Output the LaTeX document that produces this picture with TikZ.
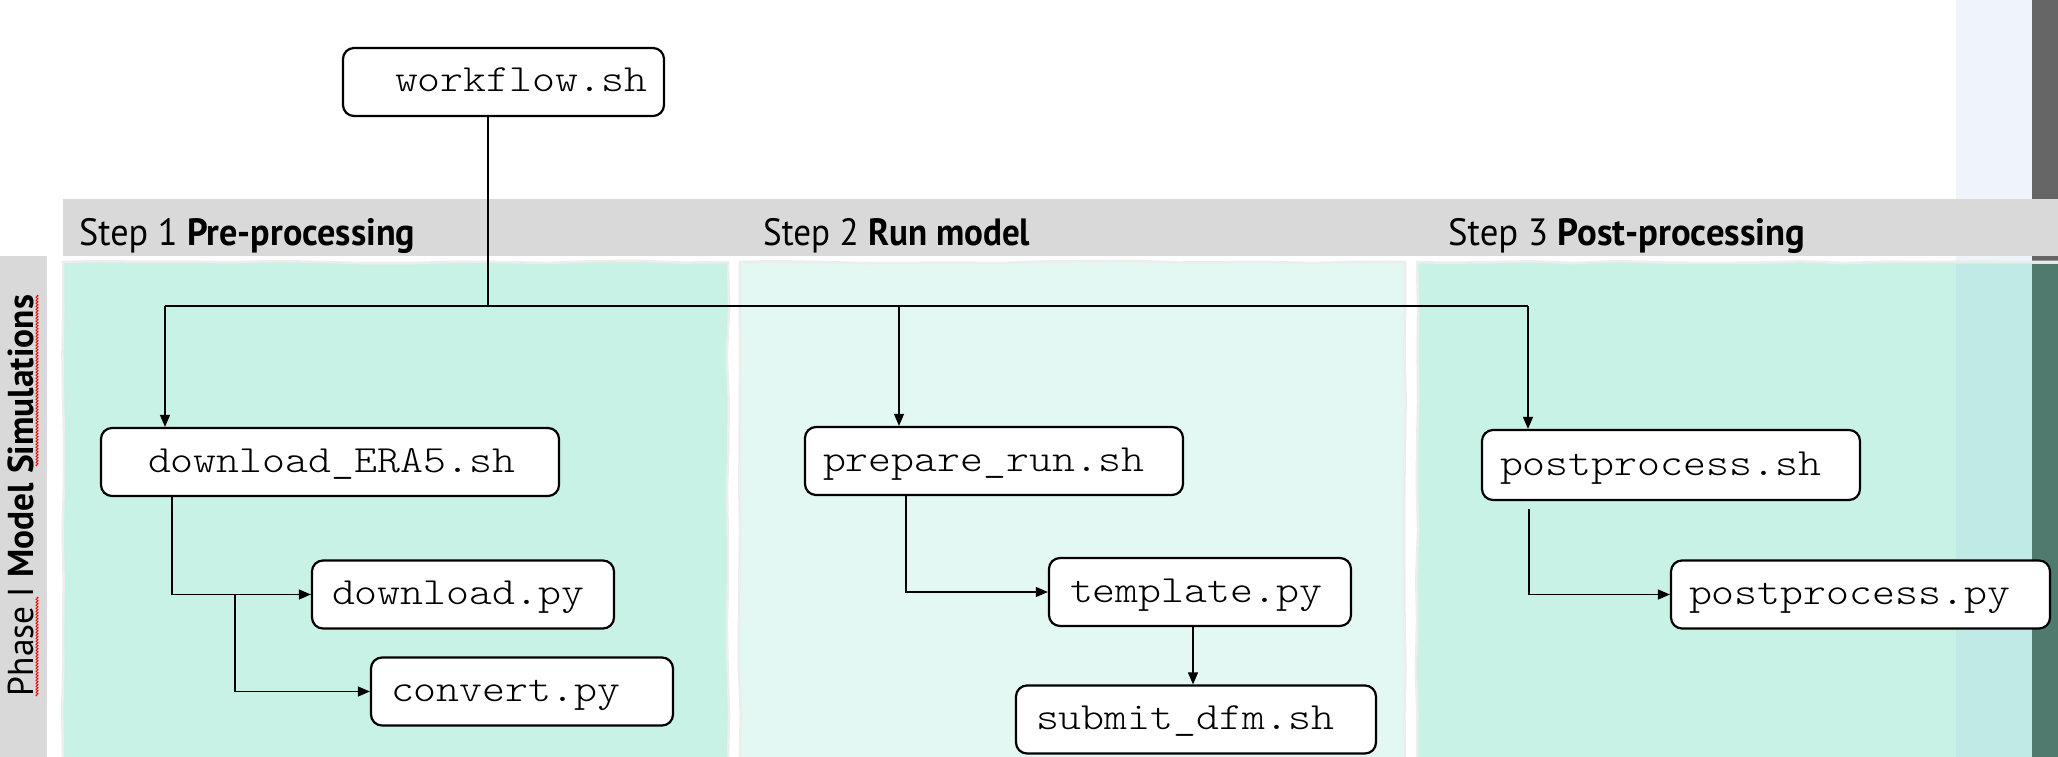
\documentclass[tikz,border=0pt]{standalone}
\usepackage{fontspec}
\usepackage{graphicx}
\setmonofont{Latin Modern Mono Light}[FakeStretch=1.135]
\newfontfamily\hdrfont{PT Sans}
\usetikzlibrary{arrows.meta,decorations.pathmorphing}
\definecolor{hdrgray}{HTML}{D9D9D9}
\definecolor{mint}{HTML}{C9F2E6}
\definecolor{mintlight}{HTML}{E3F8F2}
\definecolor{lavender}{HTML}{EFF3FB}
\definecolor{stripblue}{HTML}{C0EAE6}
\definecolor{darkgray}{HTML}{666666}
\definecolor{darkgreen}{HTML}{517A6E}
\newcommand{\filetext}[3]{\hbox to #1pt{\hskip #2pt #3\hss}}
\begin{document}
\begin{tikzpicture}[x=1pt,y=-1pt,
  filebox/.style={draw=black, line width=2.2pt, rounded corners=11pt, fill=white,
    inner xsep=0pt, inner ysep=0pt, font=\ttfamily\fontsize{38.5}{40}\selectfont,
    text height=28pt, text depth=8pt, minimum height=68pt},
  link/.style={line width=1.2pt, draw=black},
  arr/.style={link, -{Triangle[length=12pt,width=10pt]}},
  column/.style={draw=black!7, line width=2.5pt, decorate,
    decoration={random steps, segment length=45pt, amplitude=1.2pt}},
  hdrtext/.style={anchor=base west, inner sep=0pt},
]
\pgfmathsetseed{7}
\useasboundingbox (0,0) rectangle (2058,757);
\fill[white] (0,0) rectangle (2058,757);
% right-hand strips
\fill[lavender] (1956,0) rectangle (2032,757);
\fill[darkgray] (2032,0) rectangle (2058,757);
% columns
\fill[mint, column] (63,262) rectangle (728,760);
\fill[mintlight, column] (740,262) rectangle (1405,760);
\fill[mint, column] (1417,262) rectangle (2070,760);
\fill[stripblue] (1956,264) rectangle (2032,757);
\fill[darkgreen] (2032,264) rectangle (2058,757);
% header band and phase band
\fill[hdrgray] (63,199) rectangle (2058,256);
\fill[hdrgray] (0,256) rectangle (47,757);
\node[hdrtext] (s1) at (79,245) {\resizebox{336pt}{\height}{\hdrfont\fontsize{38}{40}\selectfont Step 1 \textbf{Pre-processing}}};
\node[hdrtext] (s2) at (763,245) {\resizebox{267pt}{\height}{\hdrfont\fontsize{38}{40}\selectfont Step 2 \textbf{Run model}}};
\node[hdrtext] (s3) at (1448,245) {\resizebox{357pt}{\height}{\hdrfont\fontsize{38}{40}\selectfont Step 3 \textbf{Post-processing}}};
\node[rotate=90, anchor=base, inner sep=0pt] (phase) at (34,495.5) {\resizebox{401pt}{\height}{\hdrfont\fontsize{36}{38}\selectfont Phase I \textbf{Model Simulations}}};
\draw[red, line width=0.9pt, decorate, decoration={zigzag, segment length=3pt, amplitude=1pt}] (37,597) -- (37,696);
\draw[red, line width=0.9pt, decorate, decoration={zigzag, segment length=3pt, amplitude=1pt}] (37,295) -- (37,466);
% file boxes
\node[filebox] (wf) at (503.5,82) {\filetext{321}{52}{workflow.sh}};
\node[filebox] (era) at (330,462) {\filetext{458}{47}{download\_ERA5.sh}};
\node[filebox] (dlpy) at (463,594.5) {\filetext{302}{20}{download.py}};
\node[filebox] (conv) at (522,691.5) {\filetext{302}{20}{convert.py}};
\node[filebox] (prep) at (994,461) {\filetext{378}{18}{prepare\_run.sh}};
\node[filebox] (tmpl) at (1200,592) {\filetext{302}{21}{template.py}};
\node[filebox] (subm) at (1196,719.5) {\filetext{360}{20}{submit\_dfm.sh}};
\node[filebox, minimum height=70pt] (posh) at (1671,465) {\filetext{378}{18}{postprocess.sh}};
\node[filebox] (popy) at (1860.5,594.5) {\filetext{379}{18}{postprocess.py}};
% connectors
\coordinate (h0) at (488,306);
\coordinate (hl) at (165,306);
\coordinate (hm) at (899,306);
\coordinate (hr) at (1528,306);
\draw[link] (wf.south -| h0) -- (h0);
\draw[link] (hl) -- (hr);
\draw[arr] (hl) -- (hl |- era.north);
\draw[arr] (hm) -- (hm |- prep.north);
\draw[arr] (hr) -- (hr |- posh.north);
\coordinate (e1) at (172,0);
\draw[arr] (era.south -| e1) |- (dlpy.west);
\coordinate (b1) at (235,0);
\draw[arr] (dlpy.west -| b1) |- (conv.west);
\coordinate (p1) at (906,0);
\draw[arr] (prep.south -| p1) |- (tmpl.west);
\coordinate (t1) at (1193,0);
\draw[arr] (tmpl.south -| t1) -- (subm.north -| t1);
\coordinate (q1) at (1529,509);
\draw[arr] (q1) |- (popy.west);
\end{tikzpicture}
\end{document}
